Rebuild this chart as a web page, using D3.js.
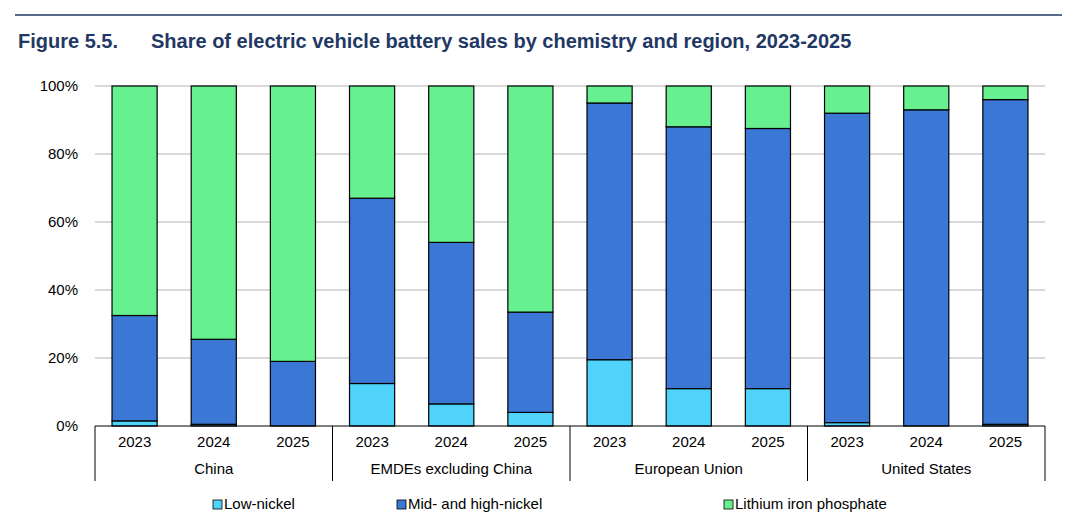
<!DOCTYPE html>
<html><head><meta charset="utf-8">
<script src="https://cdn.jsdelivr.net/npm/d3@7"></script>
<style>body{margin:0;background:#fff;font-family:Arial,"Liberation Sans",sans-serif}</style>
</head><body><svg id="c" width="1080" height="517"></svg>
<script>
const regions = ["China","EMDEs excluding China","European Union","United States"];
const years = ["2023","2024","2025"];
const lowNickel = [1.5,0.5,0, 12.5,6.5,4, 19.5,11,11, 1,0,0.5];
const midHighNickel = [31,25,19, 54.5,47.5,29.5, 75.5,77,76.5, 91,93,95.5];
const lfp = lowNickel.map((v,i)=>100-v-midHighNickel[i]);
const yTicks = [0,20,40,60,80,100];
const seriesNames = ["Low-nickel","Mid- and high-nickel","Lithium iron phosphate"];
const colors = ["#4FD3FA","#3B78D6","#66F090"];

const svg = d3.select("#c");
svg.append("line").attr("x1",15).attr("x2",1062).attr("y1",15).attr("y2",15).attr("stroke","#1F3864").attr("stroke-width",1.5);
svg.append("text").attr("x",18).attr("y",48).attr("fill","#1F3864").attr("font-size",20).attr("font-weight","bold").text("Figure 5.5.");
svg.append("text").attr("x",151).attr("y",48).attr("fill","#1F3864").attr("font-size",20).attr("font-weight","bold").text("Share of electric vehicle battery sales by chemistry and region, 2023-2025");

const x0=95, x1=1045;
const cats = d3.range(12);
const x = d3.scaleBand().domain(cats).range([x0,x1]).paddingInner(0.43).paddingOuter(0.215);
const y = d3.scaleLinear().domain([0,100]).range([426,86]);

yTicks.forEach(t=>{
  if(t>0) svg.append("line").attr("x1",x0).attr("x2",x1).attr("y1",y(t)).attr("y2",y(t)).attr("stroke","#d9d9d9").attr("stroke-width",2);
  svg.append("text").attr("x",78).attr("y",y(t)+5).attr("text-anchor","end").attr("font-size",15).attr("fill","#000").text(t+"%");
});

const stack = cats.map(i=>[lowNickel[i],midHighNickel[i],lfp[i]]);
cats.forEach(i=>{
  let base=0;
  stack[i].forEach((v,s)=>{
    if(v>0) svg.append("rect").attr("x",x(i)).attr("width",x.bandwidth()).attr("y",y(base+v)).attr("height",y(base)-y(base+v))
      .attr("fill",colors[s]).attr("stroke","#000").attr("stroke-width",1.2);
    base+=v;
  });
  svg.append("text").attr("x",x(i)+x.bandwidth()/2).attr("y",447).attr("text-anchor","middle").attr("font-size",15).text(years[i%3]);
});
svg.append("line").attr("x1",x0).attr("x2",x1).attr("y1",426).attr("y2",426).attr("stroke","#000");
const gw=(x1-x0)/4;
for(let g=0;g<=4;g++){
  svg.append("line").attr("x1",x0+g*gw).attr("x2",x0+g*gw).attr("y1",426).attr("y2",481).attr("stroke","#000");
}
regions.forEach((r,g)=>svg.append("text").attr("x",x0+g*gw+gw/2).attr("y",474).attr("text-anchor","middle").attr("font-size",15).text(r));

const lx=[213,397,724];
seriesNames.forEach((n,s)=>{
  svg.append("rect").attr("x",lx[s]).attr("y",500).attr("width",9).attr("height",9).attr("fill",colors[s]).attr("stroke","#000").attr("stroke-width",0.8);
  svg.append("text").attr("x",lx[s]+11).attr("y",509).attr("font-size",15).text(n);
});
</script></body></html>
